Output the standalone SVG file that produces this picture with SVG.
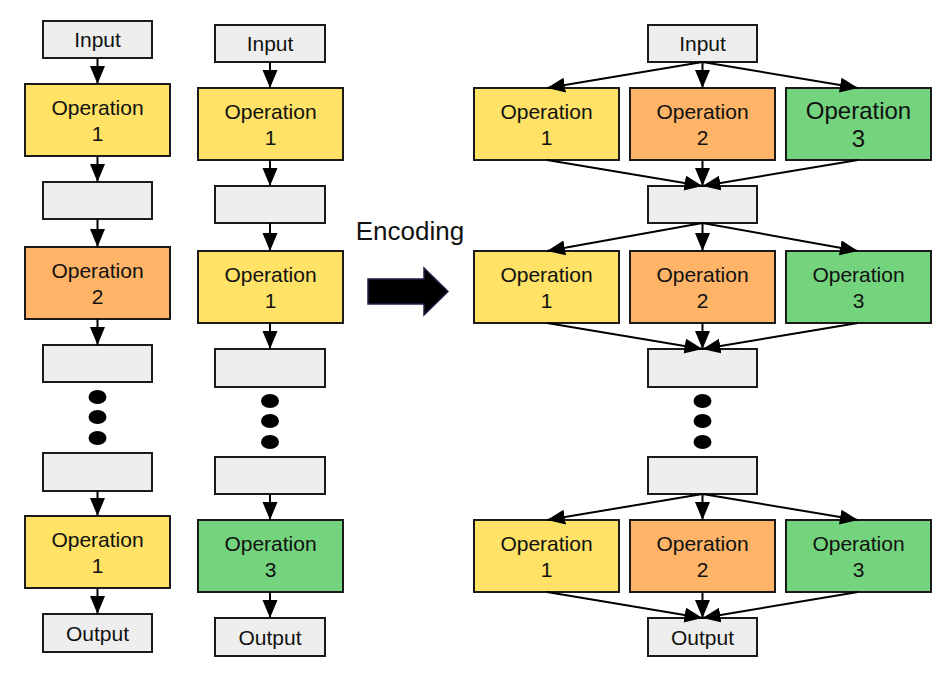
<svg xmlns="http://www.w3.org/2000/svg" width="951" height="676" viewBox="0 0 951 676">
<defs>
<style>
.box{stroke:#1a1a1a;stroke-width:2}
.g{fill:#eeeeee}
.y{fill:#ffe266}
.o{fill:#ffb468}
.gr{fill:#74d47e}
text{font-family:"Liberation Sans",Arial,sans-serif;font-size:21px;fill:#111;text-anchor:middle}
.big{font-size:24px}
.conn line{stroke:#000;stroke-width:2;marker-end:url(#ah)}
.dot{fill:#000}
</style>
<marker id="ah" markerUnits="userSpaceOnUse" markerWidth="19" markerHeight="16" refX="18" refY="7.5" orient="auto">
<path d="M0,0 L18,7.5 L0,15 z" fill="#000"/>
</marker>
</defs>
<rect width="951" height="676" fill="#fff"/>

<!-- Column 1 -->
<g id="c1-input"><rect class="box g" x="43" y="21" width="109" height="37"/><text x="97.5" y="47">Input</text></g>
<g id="c1-op1a"><rect class="box y" x="25" y="84" width="145" height="72"/><text x="97.5" y="115">Operation</text><text x="97.5" y="141">1</text></g>
<g id="c1-e1"><rect class="box g" x="43" y="182" width="109" height="37"/></g>
<g id="c1-op2"><rect class="box o" x="25" y="247" width="145" height="72"/><text x="97.5" y="278">Operation</text><text x="97.5" y="304">2</text></g>
<g id="c1-e2"><rect class="box g" x="43" y="345" width="109" height="37"/></g>
<g id="c1-dots"><ellipse class="dot" cx="97.5" cy="397" rx="9" ry="7"/><ellipse class="dot" cx="97.5" cy="417" rx="9" ry="7"/><ellipse class="dot" cx="97.5" cy="438" rx="9" ry="7"/></g>
<g id="c1-e3"><rect class="box g" x="43" y="453" width="109" height="38"/></g>
<g id="c1-op1b"><rect class="box y" x="25" y="516" width="145" height="72"/><text x="97.5" y="547">Operation</text><text x="97.5" y="573">1</text></g>
<g id="c1-output"><rect class="box g" x="43" y="614" width="109" height="38"/><text x="97.5" y="641">Output</text></g>

<!-- Column 2 -->
<g id="c2-input"><rect class="box g" x="215" y="25" width="110" height="37"/><text x="270" y="51">Input</text></g>
<g id="c2-op1a"><rect class="box y" x="198" y="88" width="145" height="72"/><text x="270.5" y="119">Operation</text><text x="270.5" y="145">1</text></g>
<g id="c2-e1"><rect class="box g" x="215" y="186" width="110" height="37"/></g>
<g id="c2-op1b"><rect class="box y" x="198" y="251" width="145" height="72"/><text x="270.5" y="282">Operation</text><text x="270.5" y="308">1</text></g>
<g id="c2-e2"><rect class="box g" x="215" y="349" width="110" height="38"/></g>
<g id="c2-dots"><ellipse class="dot" cx="270" cy="401" rx="9" ry="7"/><ellipse class="dot" cx="270" cy="421" rx="9" ry="7"/><ellipse class="dot" cx="270" cy="442" rx="9" ry="7"/></g>
<g id="c2-e3"><rect class="box g" x="215" y="457" width="110" height="37"/></g>
<g id="c2-op3"><rect class="box gr" x="198" y="520" width="145" height="72"/><text x="270.5" y="551">Operation</text><text x="270.5" y="577">3</text></g>
<g id="c2-output"><rect class="box g" x="215" y="618" width="110" height="38"/><text x="270" y="645">Output</text></g>

<!-- Encoding -->
<g id="encoding">
<text x="410" y="240" style="font-size:26px">Encoding</text>
<path d="M368,279 L424,279 L424,268 L448,291.5 L424,315 L424,304 L368,304 Z" fill="#000" stroke="#241c44" stroke-width="1.5"/>
</g>

<!-- Column 3 -->
<g id="c3-input"><rect class="box g" x="648" y="25" width="109" height="37"/><text x="702.5" y="51">Input</text></g>
<g id="c3-r1-op1"><rect class="box y" x="474" y="88" width="145" height="72"/><text x="546.5" y="119">Operation</text><text x="546.5" y="145">1</text></g>
<g id="c3-r1-op2"><rect class="box o" x="630" y="88" width="145" height="72"/><text x="702.5" y="119">Operation</text><text x="702.5" y="145">2</text></g>
<g id="c3-r1-op3"><rect class="box gr" x="786" y="88" width="145" height="72"/><text class="big" x="858.5" y="119">Operation</text><text class="big" x="858.5" y="147">3</text></g>
<g id="c3-e1"><rect class="box g" x="648" y="186" width="109" height="37"/></g>
<g id="c3-r2-op1"><rect class="box y" x="474" y="251" width="145" height="72"/><text x="546.5" y="282">Operation</text><text x="546.5" y="308">1</text></g>
<g id="c3-r2-op2"><rect class="box o" x="630" y="251" width="145" height="72"/><text x="702.5" y="282">Operation</text><text x="702.5" y="308">2</text></g>
<g id="c3-r2-op3"><rect class="box gr" x="786" y="251" width="145" height="72"/><text x="858.5" y="282">Operation</text><text x="858.5" y="308">3</text></g>
<g id="c3-e2"><rect class="box g" x="648" y="349" width="109" height="38"/></g>
<g id="c3-dots"><ellipse class="dot" cx="702.5" cy="401" rx="9" ry="7"/><ellipse class="dot" cx="702.5" cy="421" rx="9" ry="7"/><ellipse class="dot" cx="702.5" cy="442" rx="9" ry="7"/></g>
<g id="c3-e3"><rect class="box g" x="648" y="457" width="109" height="37"/></g>
<g id="c3-r3-op1"><rect class="box y" x="474" y="520" width="145" height="72"/><text x="546.5" y="551">Operation</text><text x="546.5" y="577">1</text></g>
<g id="c3-r3-op2"><rect class="box o" x="630" y="520" width="145" height="72"/><text x="702.5" y="551">Operation</text><text x="702.5" y="577">2</text></g>
<g id="c3-r3-op3"><rect class="box gr" x="786" y="520" width="145" height="72"/><text x="858.5" y="551">Operation</text><text x="858.5" y="577">3</text></g>
<g id="c3-output"><rect class="box g" x="648" y="618" width="109" height="38"/><text x="702.5" y="645">Output</text></g>

<g id="connectors" class="conn">
<line x1="97.5" y1="58" x2="97.5" y2="84"/>
<line x1="97.5" y1="156" x2="97.5" y2="182"/>
<line x1="97.5" y1="219" x2="97.5" y2="247"/>
<line x1="97.5" y1="319" x2="97.5" y2="345"/>
<line x1="97.5" y1="491" x2="97.5" y2="516"/>
<line x1="97.5" y1="588" x2="97.5" y2="614"/>

<line x1="270" y1="62" x2="270" y2="88"/>
<line x1="270" y1="160" x2="270" y2="186"/>
<line x1="270" y1="223" x2="270" y2="251"/>
<line x1="270" y1="323" x2="270" y2="349"/>
<line x1="270" y1="494" x2="270" y2="520"/>
<line x1="270" y1="592" x2="270" y2="618"/>

<line x1="702.5" y1="62" x2="547" y2="88"/>
<line x1="702.5" y1="62" x2="702.5" y2="88"/>
<line x1="702.5" y1="62" x2="858" y2="88"/>
<line x1="547" y1="160" x2="702.5" y2="186"/>
<line x1="702.5" y1="160" x2="702.5" y2="186"/>
<line x1="858" y1="160" x2="702.5" y2="186"/>

<line x1="702.5" y1="223" x2="547" y2="251"/>
<line x1="702.5" y1="223" x2="702.5" y2="251"/>
<line x1="702.5" y1="223" x2="858" y2="251"/>
<line x1="547" y1="323" x2="702.5" y2="349"/>
<line x1="702.5" y1="323" x2="702.5" y2="349"/>
<line x1="858" y1="323" x2="702.5" y2="349"/>

<line x1="702.5" y1="494" x2="547" y2="520"/>
<line x1="702.5" y1="494" x2="702.5" y2="520"/>
<line x1="702.5" y1="494" x2="858" y2="520"/>
<line x1="547" y1="592" x2="702.5" y2="618"/>
<line x1="702.5" y1="592" x2="702.5" y2="618"/>
<line x1="858" y1="592" x2="702.5" y2="618"/>
</g>
</svg>
